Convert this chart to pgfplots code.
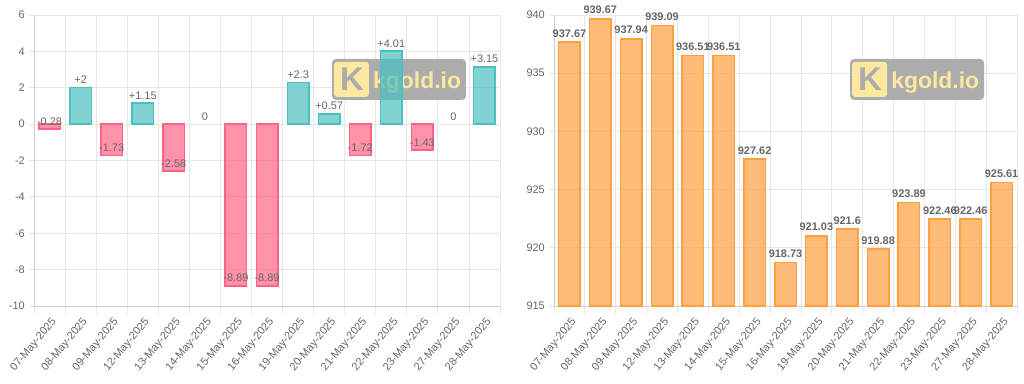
\documentclass[border=0pt]{standalone}
\usepackage{pgfplots}
\pgfplotsset{compat=1.18}
\usepackage{pgfplotstable}
\usepackage{fontspec}
\setmainfont{Liberation Sans}
\definecolor{tealB}{RGB}{75,192,192}
\definecolor{pinkB}{RGB}{255,99,132}
\definecolor{orangeB}{RGB}{255,159,64}
\definecolor{gridc}{RGB}{228,232,232}
\definecolor{axc}{RGB}{205,205,205}
\definecolor{txt}{RGB}{102,102,102}
\definecolor{wmbox}{RGB}{172,172,172}
\definecolor{wmyel}{RGB}{252,232,158}

\pgfplotstableread{
x y label
1 2 +2
3 1.15 +1.15
8 2.3 +2.3
9 0.57 +0.57
11 4.01 +4.01
14 3.15 +3.15
}\posdata
\pgfplotstableread{
x y label
0 -0.28 -0.28
2 -1.73 -1.73
4 -2.58 -2.58
6 -8.89 -8.89
7 -8.89 -8.89
10 -1.72 -1.72
12 -1.43 -1.43
}\negdata
\pgfplotstableread{
x y label
5 0 0
13 0 0
}\zerodata
\pgfplotstableread{
x y
0 937.67
1 939.67
2 937.94
3 939.09
4 936.51
5 936.51
6 927.62
7 918.73
8 921.03
9 921.6
10 919.88
11 923.89
12 922.46
13 922.46
14 925.61
}\pricedata

\tikzset{
  wmK/.style={anchor=center, inner sep=0pt, text=wmbox, font=\fontsize{33}{33}\selectfont\bfseries},
  wmtext/.style={anchor=base west, inner sep=0pt, text=wmyel, font=\fontsize{23}{23}\selectfont\bfseries},
}

\pgfplotsset{
  kstyle/.style={
    scale only axis, height=291bp,
    xmin=-0.5, xmax=14.5,
    xtick={0,...,14},
    xticklabels={07-May-2025,08-May-2025,09-May-2025,12-May-2025,13-May-2025,14-May-2025,15-May-2025,16-May-2025,19-May-2025,20-May-2025,21-May-2025,22-May-2025,23-May-2025,27-May-2025,28-May-2025},
    minor xtick={-0.5,0.5,...,14.5},
    xminorgrids=true, ymajorgrids=true, xmajorgrids=false,
    axis x line*=bottom, axis y line*=left,
    axis line style={draw=axc, line width=0.8bp, -},
    major grid style={draw=gridc, line width=0.8bp},
    minor grid style={draw=gridc, line width=0.8bp},
    tick align=outside,
    major tick length=5bp, minor tick length=8bp,
    major x tick style={draw=none},
    minor x tick style={draw=gridc, line width=0.8bp},
    major y tick style={draw=gridc, line width=0.8bp},
    tick label style={font=\fontsize{11}{13}\selectfont, text=txt},
    xticklabel style={xshift=5bp, yshift=-9bp, rotate=50, anchor=east, inner sep=0pt},
    yticklabel style={anchor=east, inner sep=0pt, xshift=-4bp},
    /pgf/number format/assume math mode=true,
    ybar, bar width=21.5bp, bar shift=0pt,
  },
}

\begin{document}
\begin{tikzpicture}[x=1bp,y=1bp]
\useasboundingbox (0,0) rectangle (1024,383);

\begin{axis}[kstyle, at={(34bp,77bp)}, anchor=south west, width=466bp,
  ymin=-10, ymax=6, ytick={-10,-8,...,6},
  nodes near coords={\pgfplotspointmeta}, point meta=explicit symbolic,
  every node near coord/.append style={font=\fontsize{11}{13}\selectfont, text=txt, anchor=base, yshift=4bp, inner sep=0pt, fill opacity=1, text opacity=1}]
  \fill[fill=wmbox, rounded corners=4bp] (axis cs:9.0925,1.328) rectangle (axis cs:13.405,3.582);
  \fill[fill=wmyel, rounded corners=3bp] (axis cs:9.157,1.493) rectangle (axis cs:10.283,3.417);
  \node[wmK] at (axis cs:9.736,2.455) {K};
  \node[wmtext] at (axis cs:10.412,1.971) {kgold.io};
  \addplot[fill=tealB, fill opacity=0.7, draw=tealB, line width=1.5bp] table[x=x,y=y,meta=label]{\posdata};
  \addplot[fill=pinkB, fill opacity=0.7, draw=pinkB, line width=1.5bp] table[x=x,y=y,meta=label]{\negdata};
  \addplot[fill=white, fill opacity=0, draw opacity=0] table[x=x,y=y,meta=label]{\zerodata};
\end{axis}

\begin{axis}[kstyle, at={(554bp,77bp)}, anchor=south west, width=463bp,
  ymin=915, ymax=940, ytick={915,920,...,940},
  nodes near coords={\pgfmathprintnumber{\pgfplotspointmeta}}, point meta=y,
  nodes near coords style={/pgf/number format/fixed, /pgf/number format/precision=2, /pgf/number format/assume math mode=true},
  every node near coord/.append style={font=\fontsize{11}{13}\selectfont\bfseries, text=txt, anchor=base, yshift=5bp, inner sep=0pt, fill opacity=1, text opacity=1}]
  \fill[fill=wmbox, rounded corners=4bp] (axis cs:9.0925,932.7) rectangle (axis cs:13.434,936.222);
  \fill[fill=wmyel, rounded corners=3bp] (axis cs:9.157,932.958) rectangle (axis cs:10.291,935.965);
  \node[wmK] at (axis cs:9.7405,934.461) {K};
  \node[wmtext] at (axis cs:10.4208,933.705) {kgold.io};
  \addplot[fill=orangeB, fill opacity=0.7, draw=orangeB, line width=1.5bp] table[x=x,y=y]{\pricedata};
\end{axis}
\end{tikzpicture}
\end{document}
